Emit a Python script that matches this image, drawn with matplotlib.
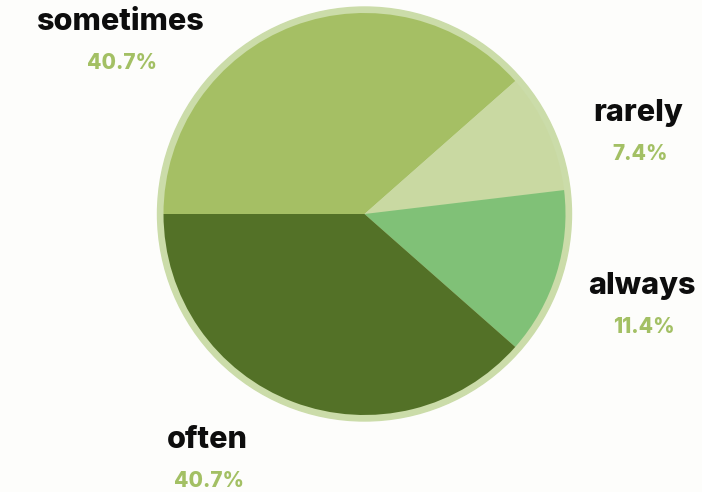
import matplotlib.pyplot as plt
from matplotlib.patches import Circle

# survey answers, clockwise from 9 o'clock
labels = ["sometimes", "rarely", "always", "often"]
label_values = [40.7, 7.4, 11.4, 40.7]      # printed percentages
slice_sizes = [38.5, 9.6, 13.4, 38.5]       # slice sizes as drawn
colors = ["#a5bf64", "#c9d9a2", "#80c177", "#537127"]

# label anchor points in pixels (x, y from top)
label_pos = [(120, 22), (638, 113), (642, 286), (207, 440)]

W, H = 702, 492
fig = plt.figure(figsize=(W / 100, H / 100), dpi=100, facecolor="#fdfdfb")
ax = fig.add_axes([0, 0, 1, 1])

cx, cy = 364.5, H - 214
ax.add_patch(Circle((cx, cy), 207, color="#cbdca9", zorder=1))
ax.pie(slice_sizes, colors=colors, startangle=180, counterclock=False,
       center=(cx, cy), radius=201, frame=True,
       wedgeprops=dict(linewidth=0, zorder=2))
ax.set_xlim(0, W)
ax.set_ylim(0, H)
ax.set_aspect("equal")
ax.axis("off")

for lab, val, (x, y) in zip(labels, label_values, label_pos):
    ax.text(x, H - y, lab, ha="center", va="center", fontsize=22,
            fontweight="heavy", family="Inter", color="#0d0d0d")
    ax.text(x + 2, H - y - 41, f"{val}%", ha="center", va="center",
            fontsize=15, fontweight="heavy", family="Inter", color="#a3c064")

fig.savefig("out.png", dpi=100, facecolor=fig.get_facecolor())
